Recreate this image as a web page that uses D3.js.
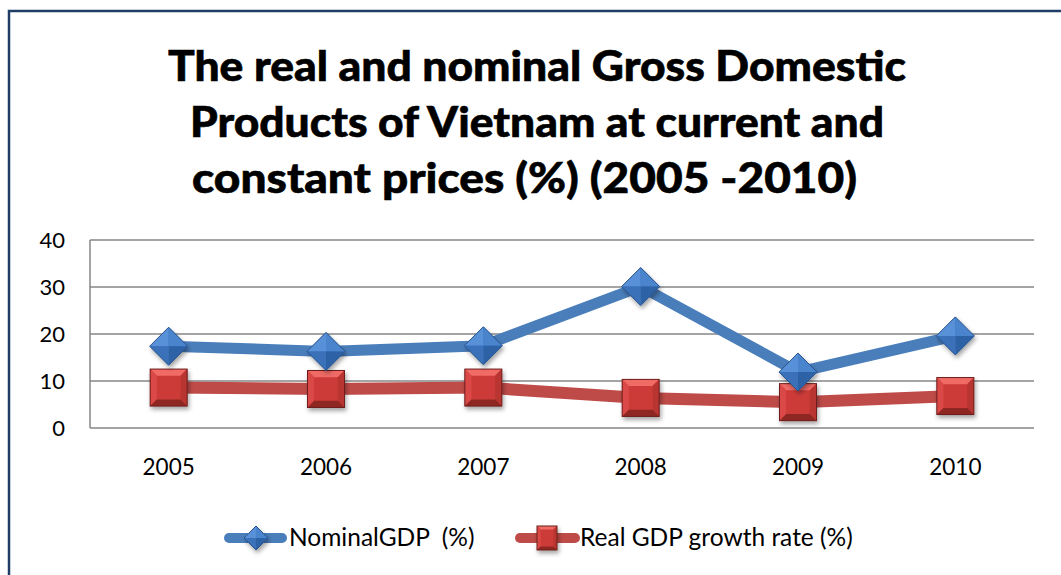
<!DOCTYPE html>
<html><head><meta charset="utf-8">
<script src="https://cdn.jsdelivr.net/npm/d3@7"></script>
<style>html,body{margin:0;padding:0;background:#fff;}svg{display:block;} text{white-space:pre;}</style>
</head><body>
<svg id="chart" width="1061" height="575"></svg>
<script>
const years = ["2005","2006","2007","2008","2009","2010"];
const nominalGDP = [17.4, 16.3, 17.5, 30.1, 11.9, 19.6];
const realGDP = [8.6, 8.3, 8.6, 6.4, 5.5, 6.8];
const yTicks = [0, 10, 20, 30, 40];
const titleLines = ["The real and nominal Gross Domestic", "Products of Vietnam at current and", "constant prices (%) (2005 -2010)"];
const seriesNames = ["NominalGDP  (%)", "Real GDP growth rate (%)"];

(function(){
const svg = d3.select("#chart");
const font = "Lato, 'Open Sans', sans-serif";
const defs = svg.append("defs");
const f = defs.append("filter").attr("id","sh").attr("x","-50%").attr("y","-50%").attr("width","200%").attr("height","200%");
f.append("feDropShadow").attr("dx",1.5).attr("dy",3).attr("stdDeviation",2).attr("flood-color","#000").attr("flood-opacity",0.35);

// frame
svg.append("rect").attr("x",9).attr("y",11).attr("width",1070).attr("height",600)
  .attr("fill","none").attr("stroke","#1F3D66").attr("stroke-width",2.5);

// title
const titleX = [168, 190, 192], titleW = [738, 694, 665], titleY = [81, 137, 193];
titleLines.forEach((t,i) => {
  svg.append("text").attr("x", titleX[i]).attr("y", titleY[i])
    .attr("textLength", titleW[i]).attr("lengthAdjust","spacingAndGlyphs")
    .attr("font-family", font).attr("font-weight","900").attr("font-size",42)
    .attr("stroke","#000").attr("stroke-width",0.6)
    .attr("fill","#000").text(t);
});

const pL = 90, pR = 1034, pT = 240, pB = 428;
const x = d3.scaleBand().domain(years).range([pL, pR]);
const y = d3.scaleLinear().domain([0, 40]).range([pB, pT]);

// grid
svg.append("g").selectAll("line").data(yTicks).join("line")
  .attr("x1", pL).attr("x2", pR).attr("y1", d=>y(d)).attr("y2", d=>y(d))
  .attr("stroke","#868686").attr("stroke-width",1.5);
svg.append("line").attr("x1",pL).attr("x2",pL).attr("y1",pT).attr("y2",pB)
  .attr("stroke","#868686").attr("stroke-width",1.5);

// y axis labels
const yAxis = d3.axisLeft(y).tickValues(yTicks).tickSize(0).tickPadding(25);
const ya = svg.append("g").attr("transform",`translate(${pL},0)`).call(yAxis);
ya.select(".domain").remove();
ya.selectAll("text").attr("font-family",font).attr("font-size",22).attr("fill","#000");

// x axis labels
const xAxis = d3.axisBottom(x).tickSize(0).tickPadding(31);
const xa = svg.append("g").attr("transform",`translate(0,${pB})`).call(xAxis);
xa.select(".domain").remove();
xa.selectAll("text").attr("font-family",font).attr("font-size",22.5).attr("fill","#000");

const cx = d => x(d) + x.bandwidth()/2;
const line = d3.line().x((d,i)=>cx(years[i])).y(d=>y(d));

svg.append("path").datum(realGDP).attr("d", line).attr("fill","none")
  .attr("stroke","#BE4B48").attr("stroke-width",12).attr("stroke-linejoin","round");
svg.append("path").datum(nominalGDP).attr("d", line).attr("fill","none")
  .attr("stroke","#4A7EBB").attr("stroke-width",11).attr("stroke-linejoin","round");

function diamond(g, r) {
  g.attr("filter","url(#sh)");
  g.append("path").attr("d",`M0,${-r}L${r},0L0,${r}L${-r},0Z`).attr("fill","#3A72BA");
  g.append("path").attr("d",`M${-r},0L0,${-r}L0,0Z`).attr("fill","#5891D8");
  g.append("path").attr("d",`M0,${-r}L${r},0L0,0Z`).attr("fill","#4A84CC");
  g.append("path").attr("d",`M${r},0L0,${r}L0,0Z`).attr("fill","#2F62A6");
  g.append("path").attr("d",`M0,${r}L${-r},0L0,0Z`).attr("fill","#3A71B8");
  g.append("path").attr("d",`M0,${-r}L${r},0L0,${r}L${-r},0Z`).attr("fill","none").attr("stroke","#2A5590").attr("stroke-width",1);
}
function square(g, w, h2) {
  const hw = w/2, hh = (h2||w)/2, b = Math.min(w, h2||w)*0.18;
  g.attr("filter","url(#sh)");
  g.append("rect").attr("x",-hw).attr("y",-hh).attr("width",2*hw).attr("height",2*hh).attr("fill","#CD3A37");
  g.append("path").attr("d",`M${-hw},${-hh}L${hw},${-hh}L${hw-b},${-hh+b}L${-hw+b},${-hh+b}Z`).attr("fill","#F06A66");
  g.append("path").attr("d",`M${-hw},${-hh}L${-hw+b},${-hh+b}L${-hw+b},${hh-b}L${-hw},${hh}Z`).attr("fill","#DA4A46");
  g.append("path").attr("d",`M${hw},${-hh}L${hw},${hh}L${hw-b},${hh-b}L${hw-b},${-hh+b}Z`).attr("fill","#B93431");
  g.append("path").attr("d",`M${-hw},${hh}L${hw},${hh}L${hw-b},${hh-b}L${-hw+b},${hh-b}Z`).attr("fill","#8E2624");
  g.append("rect").attr("x",-hw).attr("y",-hh).attr("width",2*hw).attr("height",2*hh).attr("fill","none").attr("stroke","#6E1F1D").attr("stroke-width",1);
}

realGDP.forEach((v,i)=>{ square(svg.append("g").attr("transform",`translate(${cx(years[i])},${y(v)})`), 37); });
nominalGDP.forEach((v,i)=>{ diamond(svg.append("g").attr("transform",`translate(${cx(years[i])},${y(v)})`), 19); });

// legend
const ly = 538;
svg.append("line").attr("x1",229).attr("x2",282).attr("y1",ly).attr("y2",ly)
  .attr("stroke","#4A7EBB").attr("stroke-width",10).attr("stroke-linecap","round");
diamond(svg.append("g").attr("transform",`translate(256,${ly})`), 12);
svg.append("text").attr("x",289).attr("y",ly+8).attr("font-family",font).attr("font-size",24.5).text(seriesNames[0]);
svg.append("line").attr("x1",520).attr("x2",575).attr("y1",ly).attr("y2",ly)
  .attr("stroke","#BE4B48").attr("stroke-width",10).attr("stroke-linecap","round");
square(svg.append("g").attr("transform",`translate(547,${ly})`), 20, 24);
svg.append("text").attr("x",580).attr("y",ly+8).attr("font-family",font).attr("font-size",24.5).text(seriesNames[1]);
})();
</script>
</body></html>
